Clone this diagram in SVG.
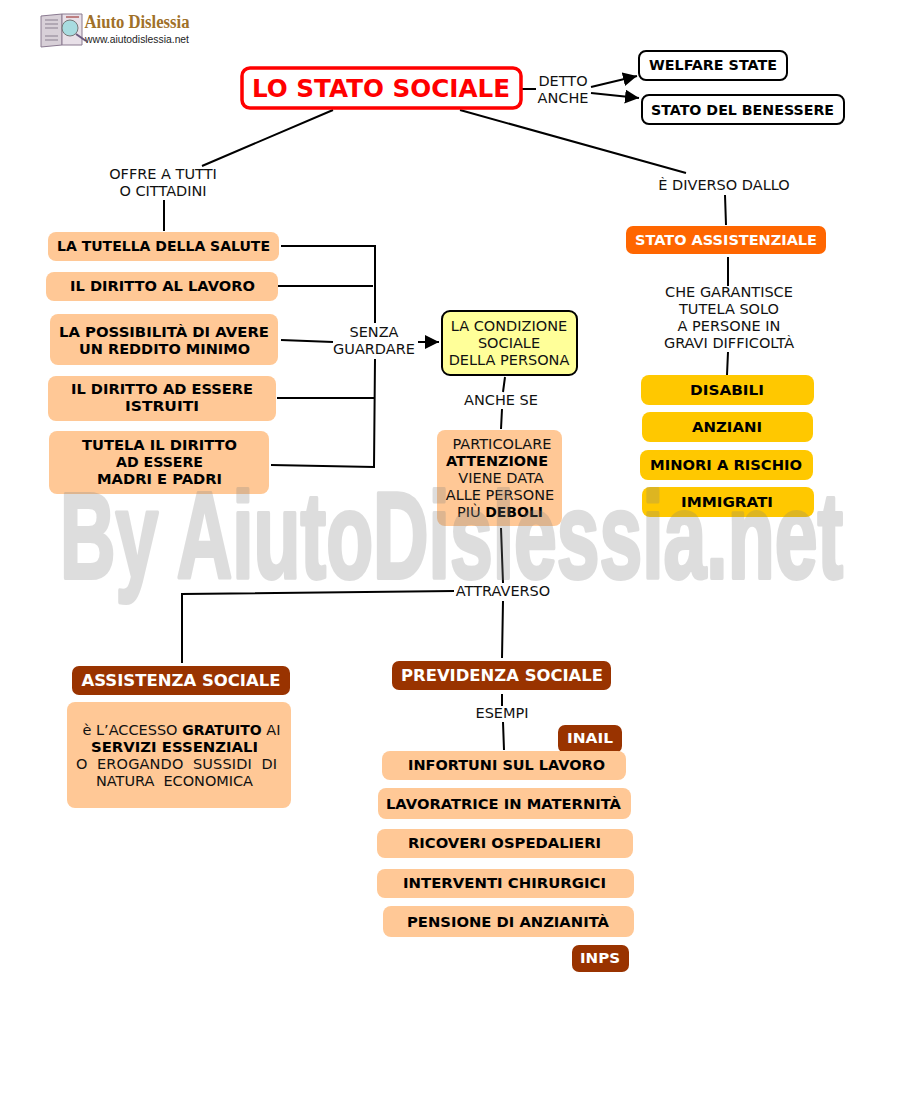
<svg xmlns="http://www.w3.org/2000/svg" width="900" height="1100" viewBox="0 0 900 1100">
<style>
text{font-family:"DejaVu Sans",Verdana,sans-serif;font-size:14.5px;text-anchor:middle;dominant-baseline:central;fill:#111}
.b{font-weight:bold;font-size:14px;fill:#000}
tspan.b{font-weight:bold}
.w{fill:#fff;font-weight:bold;font-size:14px}
.o{fill:#ffc896}
.y{fill:#ffc800}
.r{fill:#993300}
.c{fill:none;stroke:#000;stroke-width:2}
</style>
<defs>
<marker id="a" markerUnits="userSpaceOnUse" markerWidth="15" markerHeight="15" refX="14" refY="7" orient="auto"><path d="M0 0L14 7L0 14z" fill="#000"/></marker>
</defs>
<rect width="900" height="1100" fill="#fff"/>
<g id="logo">
<path d="M41 16L62 14L62 45L41 47z" fill="#d8d0d8" stroke="#8a7a90"/>
<path d="M62 14L82 14L82 45L62 45z" fill="#e8e0e8" stroke="#8a7a90"/>
<path d="M45 20H58M45 24H58M45 28H58M45 36H58M45 40H58" stroke="#8a8090" stroke-width="1"/>
<path d="M66 17H79" stroke="#b06060" stroke-width="1.5"/>
<circle cx="70" cy="28" r="8" fill="#a8dce0" stroke="#777"/>
<path d="M76 34L86 41" stroke="#6a5a80" stroke-width="2"/>
<text x="137" y="22" textLength="105" lengthAdjust="spacingAndGlyphs" style="font-family:'Liberation Serif',serif;font-size:18px;font-weight:bold;fill:#a07028">Aiuto Dislessia</text>
<text x="137" y="39" textLength="104" lengthAdjust="spacingAndGlyphs" style="font-family:'Liberation Sans',sans-serif;font-size:10.5px;fill:#222">www.aiutodislessia.net</text>
</g>
<g id="connectors">
<path class="c" d="M333 110L202 166M164 200V231"/>
<path class="c" d="M460 110L686 173M725 195L726 225"/>
<path class="c" d="M522 89H536"/>
<path class="c" d="M591 87L637 76" marker-end="url(#a)"/>
<path class="c" d="M591 93L639 98" marker-end="url(#a)"/>
<path class="c" d="M728 257V286M728 352L727 375"/>
<path class="c" d="M281 246H375L375 323"/>
<path class="c" d="M278 286H373"/>
<path class="c" d="M281 340L333 342"/>
<path class="c" d="M277 398H374"/>
<path class="c" d="M271 465L374 467L375 359"/>
<path class="c" d="M418 342H439" marker-end="url(#a)"/>
<path class="c" d="M505 377L503 392M502 409L501 429"/>
<path class="c" d="M501 528L503 583M503 601L502 658"/>
<path class="c" d="M454 591L182 594V663"/>
<path class="c" d="M502 694V706M503 722L504 750"/>
</g>
<g id="title"><rect x="242" y="68" width="279" height="40" rx="8" fill="#fff" stroke="#f00" stroke-width="3.5"/><text x="381" y="88" class="b" textLength="258" lengthAdjust="spacingAndGlyphs" style="font-size:24.5px;fill:#f00">LO STATO SOCIALE</text></g>
<g id="welfare"><rect x="639" y="51" width="148" height="29" rx="7" fill="#fff" stroke="#000" stroke-width="2"/><text x="713" y="65" class="b" textLength="128" lengthAdjust="spacingAndGlyphs">WELFARE STATE</text></g>
<g id="benessere"><rect x="642" y="95" width="202" height="29" rx="7" fill="#fff" stroke="#000" stroke-width="2"/><text x="742.500" y="110" class="b" textLength="183" lengthAdjust="spacingAndGlyphs">STATO DEL BENESSERE</text></g>
<g id="l-detto"><text x="563" y="81">DETTO</text><text x="563" y="98">ANCHE</text></g>
<g id="l-offre"><text x="163" y="174">OFFRE A TUTTI</text><text x="163" y="191">O CITTADINI</text></g>
<g id="l-diverso"><text x="724" y="185">È DIVERSO DALLO</text></g>
<g id="assistenziale"><rect x="626" y="226" width="200" height="28" rx="7" fill="#ff6600"/><text x="726" y="240" class="w" textLength="182" lengthAdjust="spacingAndGlyphs">STATO ASSISTENZIALE</text></g>
<g id="l-garantisce"><text x="729" y="292">CHE GARANTISCE</text><text x="729" y="309">TUTELA SOLO</text><text x="729" y="326">A PERSONE IN</text><text x="729" y="343">GRAVI DIFFICOLTÀ</text></g>
<g id="disabili"><rect x="641" y="375" width="173" height="30" rx="8" class="y"/><text x="727" y="390" class="b" textLength="74" lengthAdjust="spacingAndGlyphs">DISABILI</text></g>
<g id="anziani"><rect x="642" y="412" width="171" height="30" rx="8" class="y"/><text x="727" y="427" class="b" textLength="70" lengthAdjust="spacingAndGlyphs">ANZIANI</text></g>
<g id="minori"><rect x="640" y="450" width="173" height="30" rx="8" class="y"/><text x="726" y="465" class="b" textLength="152" lengthAdjust="spacingAndGlyphs">MINORI A RISCHIO</text></g>
<g id="immigrati"><rect x="642" y="487" width="172" height="30" rx="8" class="y"/><text x="727" y="502" class="b" textLength="92" lengthAdjust="spacingAndGlyphs">IMMIGRATI</text></g>
<g id="salute"><rect x="48" y="232" width="231" height="29" rx="8" class="o"/><text x="163.500" y="246" class="b" textLength="213" lengthAdjust="spacingAndGlyphs">LA TUTELLA DELLA SALUTE</text></g>
<g id="lavoro"><rect x="46" y="272" width="232" height="29" rx="8" class="o"/><text x="162.500" y="286" class="b" textLength="185" lengthAdjust="spacingAndGlyphs">IL DIRITTO AL LAVORO</text></g>
<g id="reddito"><rect x="50" y="314" width="228" height="51" rx="8" class="o"/><text x="164" y="332" class="b" textLength="210" lengthAdjust="spacingAndGlyphs">LA POSSIBILITÀ DI AVERE</text><text x="164.500" y="349" class="b" textLength="171" lengthAdjust="spacingAndGlyphs">UN REDDITO MINIMO</text></g>
<g id="istruiti"><rect x="48" y="376" width="228" height="45" rx="8" class="o"/><text x="162" y="389" class="b" textLength="182" lengthAdjust="spacingAndGlyphs">IL DIRITTO AD ESSERE</text><text x="162" y="406" class="b" textLength="74" lengthAdjust="spacingAndGlyphs">ISTRUITI</text></g>
<g id="madri"><rect x="49" y="431" width="220" height="63" rx="8" class="o"/><text x="159.500" y="445" class="b" textLength="155" lengthAdjust="spacingAndGlyphs">TUTELA IL DIRITTO</text><text x="159.500" y="462" class="b" textLength="87" lengthAdjust="spacingAndGlyphs">AD ESSERE</text><text x="159.500" y="479" class="b" textLength="125" lengthAdjust="spacingAndGlyphs">MADRI E PADRI</text></g>
<g id="l-senza"><text x="374" y="332">SENZA</text><text x="374" y="349">GUARDARE</text></g>
<g id="condizione"><rect x="442" y="311" width="135" height="64" rx="8" fill="#ffff99" stroke="#000" stroke-width="2"/><text x="509" y="326">LA CONDIZIONE</text><text x="509" y="343">SOCIALE</text><text x="509" y="360">DELLA PERSONA</text></g>
<g id="l-anche"><text x="501" y="400">ANCHE SE</text></g>
<g id="attenzione"><rect x="437" y="430" width="125" height="96" rx="8" class="o"/><text x="502" y="444">PARTICOLARE</text><text x="497" y="461" class="b" textLength="102" lengthAdjust="spacingAndGlyphs">ATTENZIONE</text><text x="501" y="478">VIENE DATA</text><text x="500" y="495">ALLE PERSONE</text><text x="500" y="512">PIÙ <tspan class="b">DEBOLI</tspan></text></g>
<g id="l-attraverso"><text x="503" y="591">ATTRAVERSO</text></g>
<g id="assistenza"><rect x="72" y="666" width="218" height="29" rx="7" class="r"/><text x="181" y="680" class="w" textLength="199" lengthAdjust="spacingAndGlyphs" style="font-size:16px">ASSISTENZA SOCIALE</text></g>
<g id="accesso"><rect x="67" y="702" width="224" height="106" rx="8" class="o"/><text x="181.500" y="730">è L’ACCESSO <tspan class="b">GRATUITO</tspan> AI</text><text x="174.500" y="747" class="b" textLength="167" lengthAdjust="spacingAndGlyphs">SERVIZI ESSENZIALI</text><text x="176.500" y="764" textLength="201" xml:space="preserve">O  EROGANDO  SUSSIDI  DI</text><text x="174.500" y="781" textLength="157" xml:space="preserve">NATURA  ECONOMICA</text></g>
<g id="previdenza"><rect x="392" y="661" width="219" height="29" rx="7" class="r"/><text x="502" y="675" class="w" textLength="202" lengthAdjust="spacingAndGlyphs" style="font-size:16px">PREVIDENZA SOCIALE</text></g>
<g id="l-esempi"><text x="502" y="713">ESEMPI</text></g>
<g id="inail"><rect x="558" y="725" width="64" height="28" rx="7" class="r"/><text x="590" y="738" class="w" textLength="46" lengthAdjust="spacingAndGlyphs">INAIL</text></g>
<g id="infortuni"><rect x="382" y="751" width="244" height="29" rx="8" class="o"/><text x="506.500" y="765" class="b" textLength="197" lengthAdjust="spacingAndGlyphs">INFORTUNI SUL LAVORO</text></g>
<g id="maternita"><rect x="378" y="788" width="253" height="31" rx="8" class="o"/><text x="503.500" y="804" class="b" textLength="235" lengthAdjust="spacingAndGlyphs">LAVORATRICE IN MATERNITÀ</text></g>
<g id="ricoveri"><rect x="377" y="829" width="256" height="29" rx="8" class="o"/><text x="504.500" y="843" class="b" textLength="193" lengthAdjust="spacingAndGlyphs">RICOVERI OSPEDALIERI</text></g>
<g id="interventi"><rect x="377" y="869" width="257" height="29" rx="8" class="o"/><text x="504.500" y="883" class="b" textLength="203" lengthAdjust="spacingAndGlyphs">INTERVENTI CHIRURGICI</text></g>
<g id="pensione"><rect x="383" y="906" width="251" height="31" rx="8" class="o"/><text x="508" y="922" class="b" textLength="202" lengthAdjust="spacingAndGlyphs">PENSIONE DI ANZIANITÀ</text></g>
<g id="inps"><rect x="572" y="945" width="57" height="27" rx="7" class="r"/><text x="600" y="958" class="w" textLength="40" lengthAdjust="spacingAndGlyphs">INPS</text></g>
<text id="watermark" x="60" y="578" textLength="783" lengthAdjust="spacingAndGlyphs" opacity=".26" style="font-family:'Liberation Sans',sans-serif;font-size:122px;font-weight:bold;text-anchor:start;dominant-baseline:auto;fill:#808080;stroke:#808080;stroke-width:4;stroke-linejoin:round">By AiutoDislessia.net</text>
</svg>
